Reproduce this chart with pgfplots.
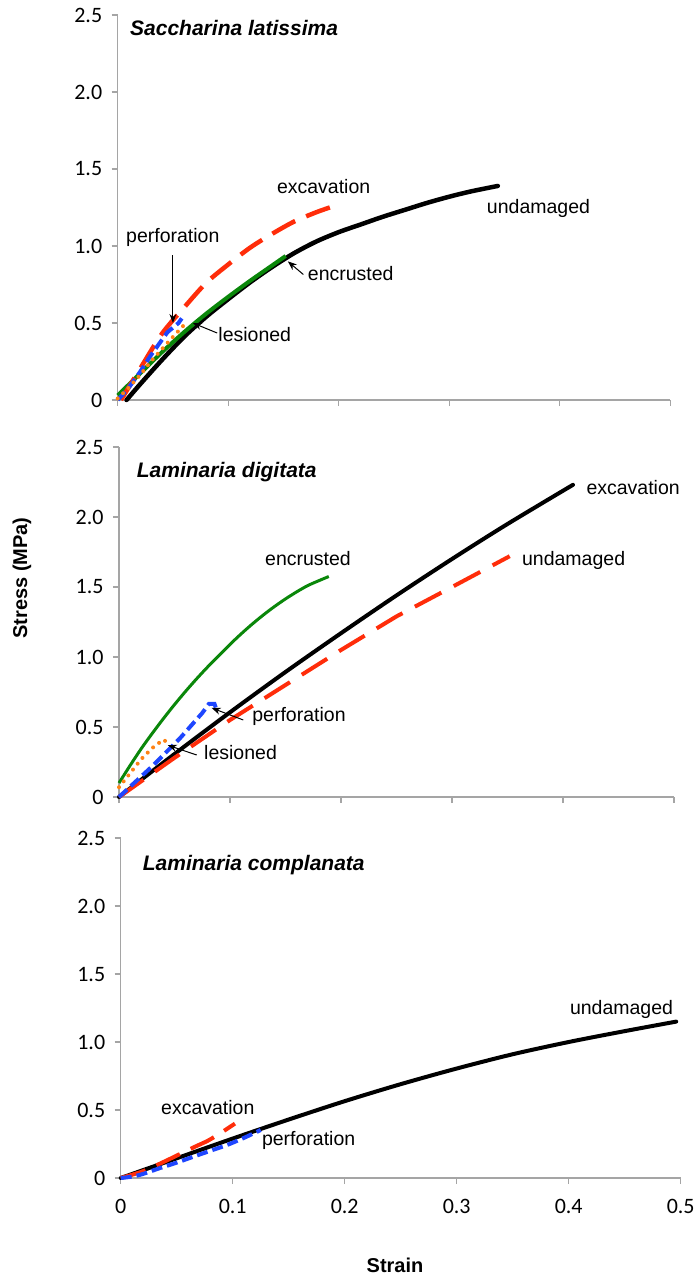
\documentclass[border=0pt]{standalone}
\usepackage{fontspec}
\setmainfont{Liberation Sans}
\newfontfamily\calfont{Carlito}
\usepackage{pgfplots}
\pgfplotsset{compat=1.18}
\usetikzlibrary{arrows.meta}
\definecolor{axgray}{RGB}{165,165,165}
\definecolor{cred}{RGB}{255,45,10}
\definecolor{cblue}{RGB}{30,70,255}
\definecolor{cgreen}{RGB}{10,135,10}
\definecolor{corange}{RGB}{255,130,20}
\tikzset{
 und/.style={black, line width=4.5pt, line join=round, line cap=round},
 exc/.style={cred, line width=4.5pt, dash pattern=on 26pt off 12pt},
 perf/.style={cblue, line width=4pt, dash pattern=on 11pt off 5pt},
 les/.style={corange, line width=4pt, line cap=round, dash pattern=on 0pt off 7.5pt},
 enc/.style={cgreen, line width=4pt},
 lab/.style={font=\fontsize{19.5}{20}\selectfont, inner sep=0pt, anchor=mid west},
 arr/.style={-{Stealth[length=9pt,width=7pt]}, line width=1pt, black},
 ttl/.style={font=\bfseries\itshape\fontsize{21}{21}\selectfont, inner sep=0pt, anchor=mid west}
}
\pgfplotsset{
 panel/.style={scale only axis, anchor=south west, clip=false,
  xmin=0, xmax=0.5, ymin=0, ymax=2.5,
  axis x line*=bottom, axis y line*=left,
  axis line style={-, draw=axgray, line width=1.3pt},
  xtick={0,0.1,0.2,0.3,0.4,0.5}, ytick={0,0.5,1,1.5,2,2.5},
  yticklabels={0,0.5,1.0,1.5,2.0,2.5},
  tick align=outside, major tick length=6pt,
  every tick/.style={draw=axgray, line width=1.3pt},
  ticklabel style={font=\calfont\fontsize{22}{22}\selectfont},
  yticklabel style={xshift=-6pt},
 }
}
\begin{document}
\begin{tikzpicture}
\useasboundingbox (0pt,0pt) rectangle (696pt,-1279pt);
% ---------- Panel 1 ----------
\begin{axis}[panel, at={(117.7pt,-400pt)}, width=552.5pt, height=385pt, xticklabels={}]
\addplot[und, smooth] coordinates {(0.008,0) (0.02,0.1) (0.04,0.26) (0.06,0.41) (0.08,0.54) (0.1,0.655) (0.12,0.765) (0.14,0.865) (0.16,0.955) (0.18,1.03) (0.2,1.09) (0.22,1.14) (0.24,1.19) (0.26,1.235) (0.28,1.28) (0.3,1.32) (0.32,1.355) (0.344,1.39)};
\addplot[enc, smooth] coordinates {(0,0.03) (0.02,0.17) (0.04,0.31) (0.06,0.44) (0.08,0.56) (0.1,0.67) (0.12,0.775) (0.14,0.875) (0.152,0.935)};
\addplot[exc, smooth] coordinates {(0.003,0) (0.02,0.2) (0.04,0.43) (0.06,0.6) (0.08,0.76) (0.1,0.88) (0.12,0.99) (0.14,1.08) (0.16,1.16) (0.18,1.22) (0.192,1.25)};
\addplot[perf] coordinates {(0,0) (0.01,0.08) (0.02,0.18) (0.03,0.29) (0.04,0.39) (0.045,0.44) (0.05,0.47) (0.055,0.5) (0.058,0.53)};
\addplot[les] coordinates {(0,0.01) (0.01,0.08) (0.02,0.16) (0.03,0.25) (0.04,0.33) (0.05,0.41) (0.063,0.51)};
\node[lab] at (axis cs:0.144,1.36) {excavation};
\node[lab] at (axis cs:0.334,1.23) {undamaged};
\node[lab] at (axis cs:0.0075,1.04) {perforation};
\node[lab] at (axis cs:0.172,0.79) {encrusted};
\node[lab] at (axis cs:0.091,0.40) {lesioned};
\draw[arr] (axis cs:0.05,0.94) -- (axis cs:0.05,0.5);
\draw[arr] (axis cs:0.168,0.815) -- (axis cs:0.154,0.9);
\draw[arr] (axis cs:0.09,0.435) -- (axis cs:0.068,0.50);
\end{axis}
% ---------- Panel 2 ----------
\begin{axis}[panel, at={(119pt,-797pt)}, width=555pt, height=350pt, xticklabels={}]
\addplot[enc, line width=3pt, smooth] coordinates {(0,0.1) (0.01,0.225) (0.02,0.345) (0.03,0.455) (0.04,0.56) (0.05,0.66) (0.06,0.755) (0.07,0.845) (0.08,0.93) (0.09,1.01) (0.1,1.09) (0.11,1.165) (0.12,1.235) (0.13,1.3) (0.14,1.36) (0.15,1.415) (0.16,1.465) (0.17,1.51) (0.18,1.545) (0.189,1.575)};
\addplot[und, line width=4pt, smooth] coordinates {(0,0) (0.05,0.307) (0.1,0.605) (0.15,0.893) (0.2,1.17) (0.25,1.44) (0.3,1.70) (0.35,1.95) (0.409,2.23)};
\addplot[exc, line width=4pt, dash pattern=on 30pt off 14pt] coordinates {(0,0) (0.05,0.28) (0.1,0.55) (0.15,0.80) (0.2,1.05) (0.25,1.29) (0.3,1.5) (0.352,1.72)};
\addplot[perf] coordinates {(0,0) (0.03,0.22) (0.055,0.42) (0.075,0.6) (0.081,0.665) (0.086,0.665) (0.088,0.62)};
\addplot[les] coordinates {(0,0.07) (0.01,0.17) (0.02,0.27) (0.03,0.35) (0.04,0.41) (0.045,0.38)};
\node[lab] at (axis cs:0.1315,1.67) {encrusted};
\node[lab] at (axis cs:0.421,2.18) {excavation};
\node[lab] at (axis cs:0.363,1.67) {undamaged};
\node[lab] at (axis cs:0.12,0.557) {perforation};
\node[lab] at (axis cs:0.0766,0.286) {lesioned};
\draw[arr] (axis cs:0.112,0.55) -- (axis cs:0.0835,0.636);
\draw[arr] (axis cs:0.07,0.30) -- (axis cs:0.044,0.37);
\end{axis}
% ---------- Panel 3 ----------
\begin{axis}[panel, at={(120.7pt,-1178pt)}, width=560pt, height=340pt,
  xticklabels={0,0.1,0.2,0.3,0.4,0.5}, xticklabel style={yshift=-12pt}]
\addplot[und, line width=4pt, smooth] coordinates {(0,0) (0.05,0.145) (0.1,0.29) (0.15,0.43) (0.2,0.565) (0.25,0.69) (0.3,0.805) (0.35,0.91) (0.4,1.0) (0.45,1.08) (0.496,1.15)};
\addplot[exc, line width=4pt, smooth] coordinates {(0,0) (0.02,0.05) (0.04,0.125) (0.065,0.225) (0.078,0.275) (0.09,0.335) (0.102,0.40)};
\addplot[perf, smooth] coordinates {(0,0) (0.01,0.01) (0.02,0.03) (0.035,0.073) (0.05,0.113) (0.065,0.157) (0.08,0.2) (0.095,0.243) (0.11,0.295) (0.125,0.353)};
\node[lab] at (axis cs:0.036,0.483) {excavation};
\node[lab] at (axis cs:0.126,0.26) {perforation};
\node[lab] at (axis cs:0.401,1.22) {undamaged};
\end{axis}
% ---------- titles and axis labels ----------
\node[ttl] at (130pt,-33pt) {Saccharina latissima};
\node[ttl] at (136.7pt,-475pt) {Laminaria digitata};
\node[ttl] at (142.7pt,-868pt) {Laminaria complanata};
\node[rotate=90, font=\bfseries\fontsize{20}{20}\selectfont, inner sep=0pt] at (22pt,-578pt) {Stress (MPa)};
\node[font=\bfseries\fontsize{20}{20}\selectfont, inner sep=0pt] at (395pt,-1265pt) {Strain};
\end{tikzpicture}
\end{document}
